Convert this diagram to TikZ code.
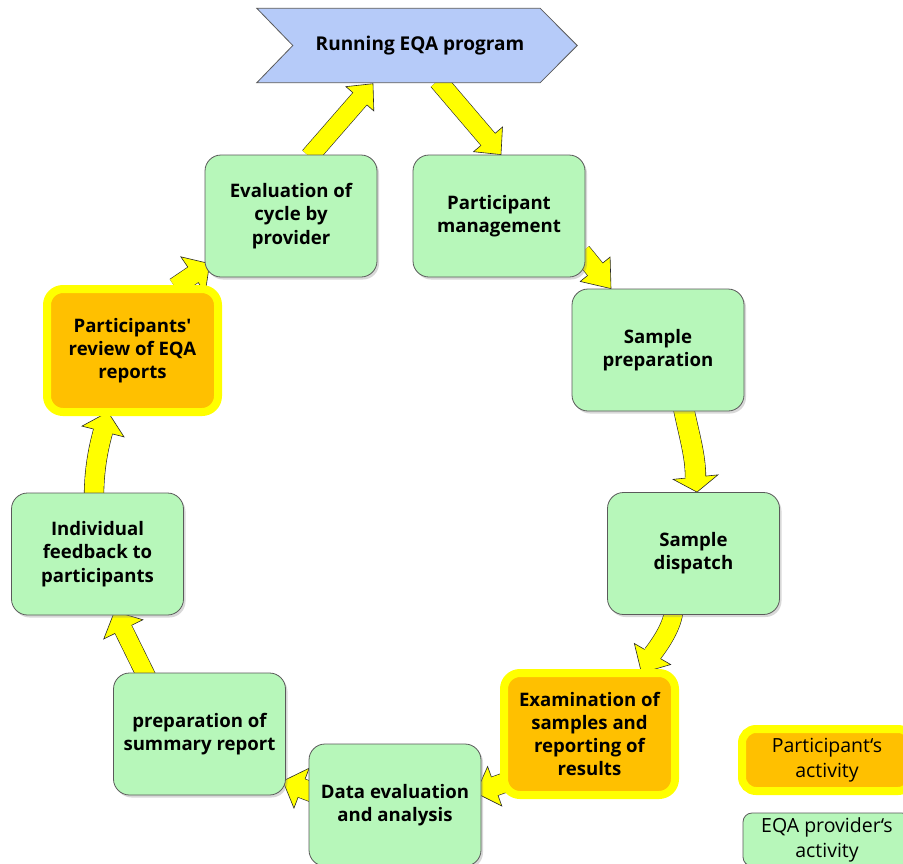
\documentclass[tikz,border=0pt]{standalone}
\usepackage{fontspec}
\setmainfont{Open Sans}[Ligatures=TeXOff]
\usetikzlibrary{calc,shadows}
\definecolor{boxgreen}{RGB}{183,247,186}
\definecolor{boxorange}{RGB}{255,192,0}
\definecolor{boxyellow}{RGB}{255,255,0}
\definecolor{hdrblue}{RGB}{182,203,249}
\definecolor{edgegrey}{RGB}{90,90,90}
\definecolor{arrline}{RGB}{40,40,40}
\pgfdeclarelayer{arrlayer}
\pgfdeclarelayer{hdrlayer}
\pgfsetlayers{arrlayer,hdrlayer,main}
% #1 shaft path, #2 base, #3 tip, #4 shaft width, #5 half head width
\newcommand\yarrbody[5]{%
  \draw[line width=#4+1.2pt, draw=arrline] #1;
  \filldraw[fill=boxyellow, draw=arrline, line width=0.6pt, line join=miter]
     #3 -- ($#2!#5!90:#3$) -- ($#2!#5!-90:#3$) -- cycle;
  \draw[line width=#4, draw=boxyellow] #1 -- ($#2!2pt!#3$);
}
% straight: #1 start, #2 tip, #3 shaft w, #4 half head w, #5 head length
\newcommand\sarr[5]{%
  \coordinate (tmpb) at ($#2!#5!#1$);
  \yarrbody{#1 -- (tmpb)}{(tmpb)}{#2}{#3}{#4}%
}
% curved: #1 start, #2 c1, #3 c2, #4 base, #5 tip, #6 shaft w, #7 half head w
\newcommand\carr[7]{%
  \yarrbody{#1 .. controls #2 and #3 .. #4}{#4}{#5}{#6}{#7}%
}
\tikzset{
  boxfont/.style={font=\bfseries\fontsize{18.6}{23.2}\selectfont},
  gbox/.style={draw=edgegrey, line width=0.8pt, fill=boxgreen, rounded corners=16pt,
    minimum width=172pt, minimum height=122pt, align=center, boxfont,
    drop shadow={opacity=0.3, shadow xshift=2pt, shadow yshift=-2.5pt}},
  obox/.style={draw=boxyellow, line width=8pt, fill=boxorange, rounded corners=16pt,
    minimum width=171pt, minimum height=122pt, align=center, boxfont,
    drop shadow={opacity=0.3, shadow xshift=2pt, shadow yshift=-3pt}},
  legfont/.style={font=\fontsize{19.5}{25}\selectfont},
}
\begin{document}
\begin{tikzpicture}[x=1pt,y=-1pt]
\useasboundingbox (0,0) rectangle (903,863);
\begin{pgfonlayer}{arrlayer}
  \fill[white] (0,0) rectangle (903,863);
\end{pgfonlayer}

% header
\node[font=\bfseries\fontsize{19}{23}\selectfont, minimum width=320pt, minimum height=74pt, inner sep=0pt] (hdr) at (417,45.5) {\hspace*{6pt}Running EQA program};
\begin{pgfonlayer}{hdrlayer}
  \filldraw[fill=hdrblue, draw=edgegrey, line width=0.8pt]
    (hdr.north west) -- ($(hdr.north east)+(-37,0)$) -- (hdr.east)
    -- ($(hdr.south east)+(-37,0)$) -- (hdr.south west) -- ($(hdr.west)+(36,0)$) -- cycle;
\end{pgfonlayer}

% boxes
\node[gbox] (eval) at (291,216) {Evaluation of\\cycle by\\provider};
\node[gbox] (pm) at (499,216) {Participant\\management};
\node[gbox] (prep) at (658,350) {Sample\\preparation};
\node[gbox] (disp) at (693.5,553.5) {Sample\\dispatch};
\node[obox] (exam) at (589.5,734) {Examination of\\samples and\\reporting of\\results};
\node[gbox] (data) at (395,805) {Data evaluation\\and analysis};
\node[gbox] (summ) at (199.5,734) {preparation of\\summary report};
\node[gbox] (feed) at (97.5,554) {Individual\\feedback to\\participants};
\node[obox, minimum height=123pt] (rev) at (132.5,350.5) {Participants'\\review of EQA\\reports};

% legend
\node[draw=boxyellow, line width=8pt, fill=boxorange, rounded corners=14pt,
  minimum width=170pt, minimum height=62pt, align=center, legfont] (leg1) at (827,760) {Participant‘s\\activity};
\node[draw=edgegrey, line width=0.8pt, fill=boxgreen, rounded corners=9pt,
  minimum width=168pt, minimum height=53pt, align=center, legfont] (leg2) at (827,839.5) {EQA provider‘s\\activity};

% arrow coordinates
\coordinate (a1s) at ($(eval.north)+(18.5,2)$);
\coordinate (a1t) at ($(hdr.south)+(-44,1)$);
\coordinate (a2s) at ($(hdr.south)+(21,-2)$);
\coordinate (a2t) at ($(pm.north)+(2,0)$);
\coordinate (a3s) at ($(pm.south east)+(-4,-25)$);
\coordinate (a3t) at ($(prep.north)+(-47,0)$);
\coordinate (a4s) at ($(prep.south)+(25,-6)$);
\coordinate (a4a) at (689,435);
\coordinate (a4b) at (695.5,455);
\coordinate (a4m) at ($(disp.north)+(2,-15)$);
\coordinate (a4t) at ($(disp.north)+(3.5,0)$);
\coordinate (a5s) at ($(disp.south)+(-19.5,-6)$);
\coordinate (a5a) at (673,625);
\coordinate (a5b) at (661,643);
\coordinate (a5m) at ($(exam.north)+(63,-15)$);
\coordinate (a5t) at ($(exam.north)+(52,4)$);
\coordinate (a6s) at ($(exam.west)+(19,43.5)$);
\coordinate (a6t) at ($(data.east)+(-5.5,-12)$);
\coordinate (a7s) at ($(data.west)+(24,-5)$);
\coordinate (a7t) at ($(summ.east)+(-3,47)$);
\coordinate (a8s) at ($(summ.north)+(-50.5,9)$);
\coordinate (a8t) at ($(feed.south)+(17,-4)$);
\coordinate (a9s) at ($(feed.north)+(-3.5,4)$);
\coordinate (a9a) at (94,468);
\coordinate (a9b) at (99,446);
\coordinate (a9m) at ($(rev.south)+(-29.5,15.5)$);
\coordinate (a9t) at ($(rev.south)+(-24.5,-4)$);
\coordinate (a10s) at ($(rev.north)+(42.5,2)$);
\coordinate (a10t) at ($(eval.west)+(5,47.6)$);

\begin{pgfonlayer}{arrlayer}
  \sarr{(a1s)}{(a1t)}{18pt}{18.5pt}{20pt}
  \sarr{(a2s)}{(a2t)}{18pt}{19pt}{20pt}
  \sarr{(a3s)}{(a3t)}{19pt}{19.3pt}{25pt}
  \carr{(a4s)}{(a4a)}{(a4b)}{(a4m)}{(a4t)}{20pt}{22.5pt}
  \carr{(a5s)}{(a5a)}{(a5b)}{(a5m)}{(a5t)}{18pt}{21pt}
  \sarr{(a6s)}{(a6t)}{19pt}{21pt}{20pt}
  \sarr{(a7s)}{(a7t)}{19pt}{21.4pt}{20pt}
  \sarr{(a8s)}{(a8t)}{18pt}{21.8pt}{20pt}
  \carr{(a9s)}{(a9a)}{(a9b)}{(a9m)}{(a9t)}{19pt}{21.7pt}
  \sarr{(a10s)}{(a10t)}{18pt}{21.7pt}{20pt}
\end{pgfonlayer}
\end{tikzpicture}
\end{document}
